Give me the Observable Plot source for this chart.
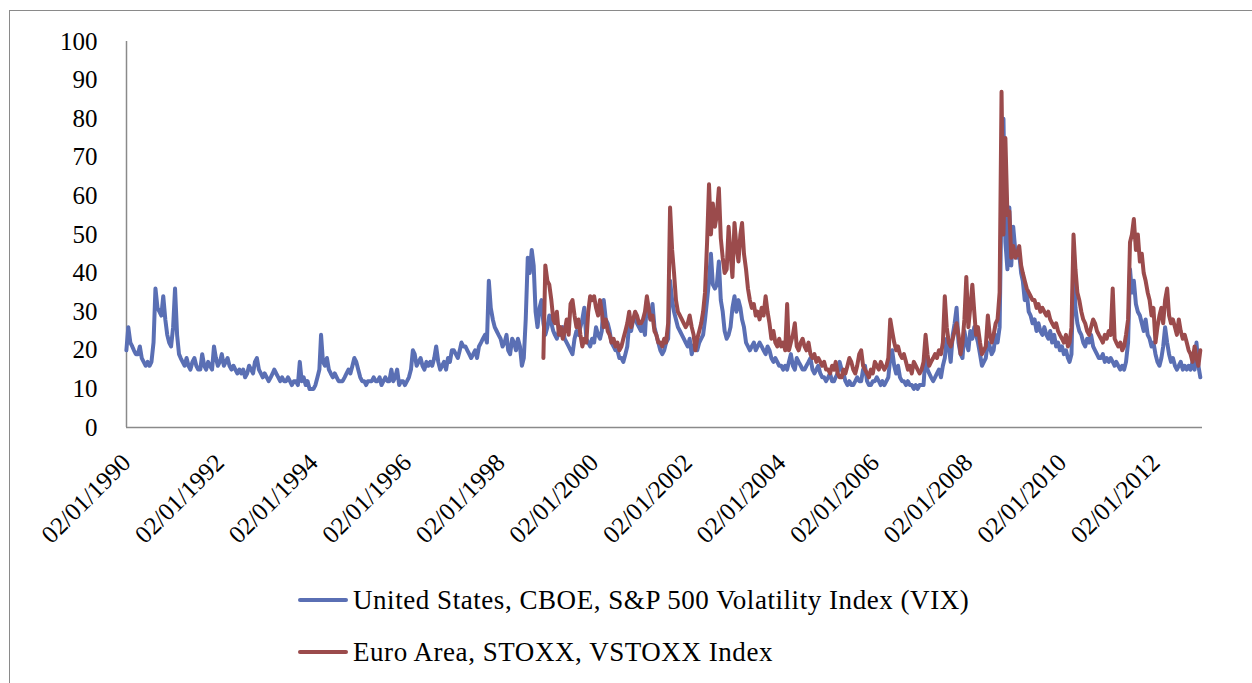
<!DOCTYPE html>
<html><head><meta charset="utf-8">
<script src="https://cdn.jsdelivr.net/npm/d3@7"></script>
<script src="https://cdn.jsdelivr.net/npm/@observablehq/plot@0.6"></script>
<style>
body{margin:0;background:#fff;font-family:"Liberation Serif",serif;}
#wrap{position:relative;width:1252px;height:683px;overflow:hidden;background:#fff;}
#frame{position:absolute;left:9px;top:10px;width:1300px;height:800px;border:1.5px solid #8a8a8a;}
#chart{position:absolute;left:0;top:0;}
#legend{position:absolute;left:298px;top:574px;font-size:27px;letter-spacing:0.55px;color:#000;}
.item{display:flex;align-items:center;height:52px;white-space:nowrap;}
.sw{width:50px;height:4px;margin-right:5px;border-radius:2px;}
</style></head>
<body>
<div id="wrap"><div id="frame"></div><div id="chart"></div><div id="legend"></div></div>
<script>
// Semi-monthly readings (1st and 16th of each month)
const vixStartYear = 1990;
const vixValues = [
/*1990*/20,26,22,21,20,19,19,21,18,17,16,17,16,17,22,36,31,30,29,34,28,24,22,21,
/*1991*/26,36,24,19,18,17,16,18,16,15,17,18,16,15,15,19,16,15,17,16,15,21,18,16,
/*1992*/17,19,16,17,18,16,15,16,15,14,15,14,15,13,14,16,15,14,17,18,15,14,13,14,
/*1993*/13,12,13,14,15,14,13,12,13,12,12,13,12,11,12,12,11,17,12,13,11,12,10,10,
/*1994*/10,11,13,15,24,17,16,18,15,14,13,14,13,12,12,12,13,14,15,14,16,18,17,15,
/*1995*/13,12,12,11,12,12,12,13,12,12,13,11,12,13,12,12,15,12,13,15,11,12,12,11,
/*1996*/12,13,15,20,19,16,17,18,16,15,17,16,17,16,18,21,17,15,16,17,15,18,17,20,
/*1997*/20,19,18,20,22,21,21,20,19,18,19,20,18,21,22,23,24,22,38,31,28,26,25,24,
/*1998*/23,21,22,24,20,19,23,22,20,23,21,16,18,28,44,40,46,42,30,26,31,33,27,24,
/*1999*/26,29,27,25,24,23,25,24,26,23,22,21,20,19,23,25,24,26,28,31,23,22,21,23,
/*2000*/22,26,24,23,25,33,28,27,25,22,21,20,20,18,18,17,19,21,27,25,28,29,27,26,
/*2001*/25,27,24,33,30,28,32,26,24,22,20,19,20,22,23,38,33,30,28,26,25,24,23,22,
/*2002*/21,23,19,21,22,20,22,23,24,28,33,38,45,37,36,37,43,33,30,25,23,24,26,31,
/*2003*/34,30,33,31,28,26,22,21,20,21,22,20,21,22,21,20,19,21,20,18,17,18,17,16,
/*2004*/16,15,16,15,17,19,16,15,18,17,16,15,15,16,17,18,15,14,15,16,14,13,13,12,
/*2005*/13,14,12,12,13,14,17,15,14,12,11,12,11,11,12,13,12,12,15,16,12,11,11,12,
/*2006*/12,13,12,11,12,11,12,13,18,20,16,14,16,13,12,12,11,12,11,11,10,11,10,11,
/*2007*/11,11,19,15,14,13,12,13,14,15,13,16,18,23,21,17,24,27,31,22,19,18,25,22,
/*2008*/20,25,23,26,24,22,19,16,17,18,22,21,19,20,24,22,26,60,80,48,41,57,42,52,
/*2009*/46,44,45,40,38,33,35,30,29,27,28,25,27,25,24,26,24,23,25,22,24,21,22,20,
/*2010*/21,19,20,18,17,19,42,31,27,25,24,22,21,23,22,24,21,20,19,18,18,19,17,18,
/*2011*/17,18,17,16,17,16,15,16,15,17,22,41,35,38,32,30,29,27,25,28,24,23,21,22,
/*2012*/19,17,16,18,21,26,22,19,17,18,16,15,16,17,15,16,15,16,15,17,15,22,16,13
];
// VSTOXX starts at the 23rd half-month of 1998 (1 December 1998)
const vstoxxStartYear = 1998;
const vstoxxStartIndex = 22;
const vstoxxValues = [
/*1998*/18,42,
/*1999*/38,37,33,28,27,30,24,26,23,25,28,24,32,33,29,26,28,24,21,23,22,30,34,33,
/*2000*/34,31,29,33,30,26,28,25,24,22,23,21,22,20,21,23,25,27,30,26,28,30,29,27,
/*2001*/27,28,30,34,31,28,29,25,24,22,22,21,23,22,27,57,46,40,33,30,29,28,27,26,
/*2002*/27,29,26,24,20,23,25,27,30,35,48,63,50,58,52,55,62,49,44,40,41,52,45,39,
/*2003*/53,47,43,50,53,45,41,36,33,31,32,29,30,28,31,29,34,30,27,23,25,22,21,23,
/*2004*/21,22,20,32,20,22,24,27,21,20,22,23,21,20,22,19,18,19,17,18,17,16,17,15,
/*2005*/15,14,16,15,17,14,13,13,15,14,16,18,17,15,14,16,19,20,16,15,14,13,15,14,
/*2006*/17,16,15,17,16,15,16,18,28,25,22,20,21,19,18,19,17,15,16,14,17,16,15,14,
/*2007*/15,17,24,19,16,17,18,19,18,20,19,22,34,26,22,21,23,25,27,24,19,22,28,39,
/*2008*/26,31,37,30,24,26,22,19,20,21,29,24,22,24,27,28,35,87,50,75,55,56,44,47,
/*2009*/44,45,47,42,40,38,36,35,34,33,33,31,32,30,31,30,29,30,28,27,26,27,25,24,
/*2010*/23,22,24,21,22,26,50,41,35,33,30,28,27,25,24,26,28,27,25,24,23,22,24,23,
/*2011*/25,24,36,23,22,21,22,20,21,24,28,48,50,54,46,50,43,45,40,38,35,33,29,31,
/*2012*/22,26,29,31,27,33,36,29,27,28,26,24,28,25,23,24,22,20,19,17,21,18,16,20
];
const tickYears = [1990,1992,1994,1996,1998,2000,2002,2004,2006,2008,2010,2012];
const yTicks = [0,10,20,30,40,50,60,70,80,90,100];
const seriesNames = ["United States, CBOE, S&P 500 Volatility Index (VIX)", "Euro Area, STOXX, VSTOXX Index"];
const seriesColors = ["#5a6fb4", "#9b4b4c"];

function halfMonthDate(y0, i) {
  return new Date(Date.UTC(y0, Math.floor(i / 2), i % 2 ? 16 : 1));
}
const vixData = vixValues.map((v, i) => ({date: halfMonthDate(vixStartYear, i), value: v}));
const vstoxxData = vstoxxValues.map((v, i) => ({date: halfMonthDate(vstoxxStartYear, i + vstoxxStartIndex), value: v}));

const xStart = new Date(Date.UTC(1990, 0, 2));
const xEnd = new Date(Date.UTC(2013, 0, 2));
const tickDates = tickYears.map(y => new Date(Date.UTC(y, 0, 2)));
const fmt = d3.utcFormat("%d/%m/%Y");

const chart = Plot.plot({
  width: 1252, height: 575,
  marginLeft: 126, marginRight: 50, marginTop: 41, marginBottom: 148,
  x: {type: "utc", domain: [xStart, xEnd], ticks: tickDates, tickFormat: fmt, tickRotate: -45, tickSize: 0, tickPadding: 31, label: null},
  y: {domain: [0, 100], ticks: yTicks, tickSize: 0, tickPadding: 29, label: null},
  style: {fontFamily: "'Liberation Serif', serif", fontSize: "25px", background: "transparent", color: "#000", overflow: "visible"},
  marks: [
    Plot.ruleX([xStart], {stroke: "#8a8a8a", strokeWidth: 1.5}),
    Plot.ruleY([0], {stroke: "#8a8a8a", strokeWidth: 1.5}),
    Plot.line(vixData, {x: "date", y: "value", stroke: seriesColors[0], strokeWidth: 4, strokeLinejoin: "round"}),
    Plot.line(vstoxxData, {x: "date", y: "value", stroke: seriesColors[1], strokeWidth: 4, strokeLinejoin: "round"})
  ]
});
document.getElementById("chart").appendChild(chart);

const legend = document.getElementById("legend");
seriesNames.forEach((n, i) => {
  const it = document.createElement("div"); it.className = "item";
  const sw = document.createElement("span"); sw.className = "sw"; sw.style.background = seriesColors[i];
  const tx = document.createElement("span"); tx.textContent = n;
  it.appendChild(sw); it.appendChild(tx); legend.appendChild(it);
});
</script>
</body></html>
